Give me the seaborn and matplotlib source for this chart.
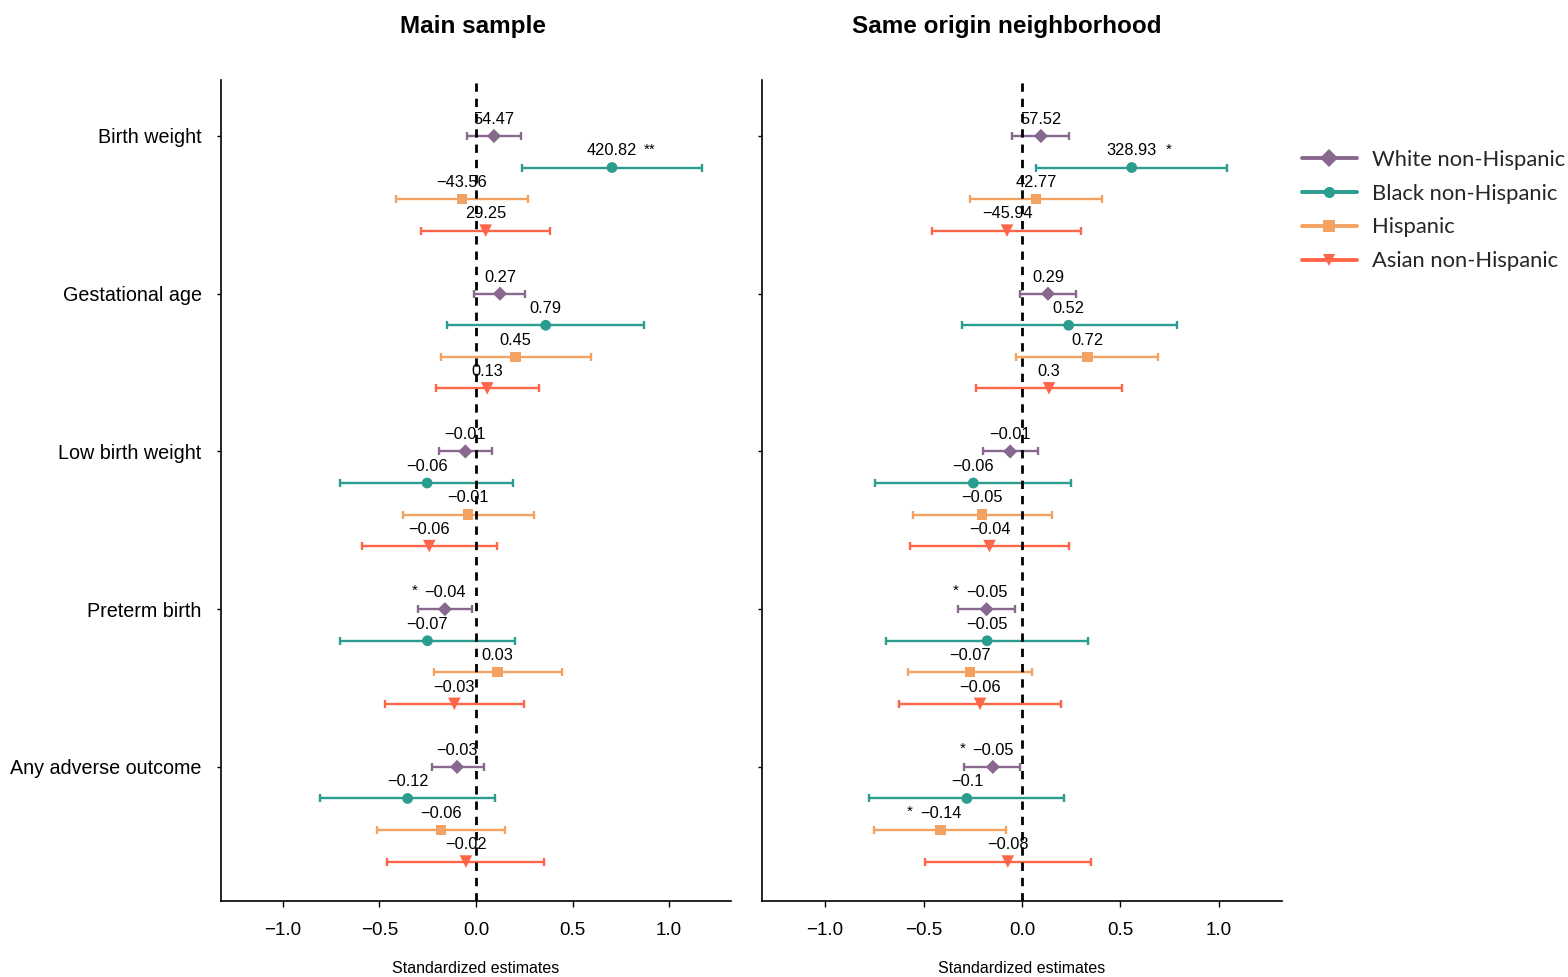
import numpy as np
import pandas as pd
import matplotlib
matplotlib.use("Agg")
import matplotlib.pyplot as plt
from matplotlib.lines import Line2D
import seaborn as sns

# ---- data -------------------------------------------------------------
outcomes = ["Birth weight", "Gestational age", "Low birth weight",
            "Preterm birth", "Any adverse outcome"]
groups = ["White non-Hispanic", "Black non-Hispanic", "Hispanic",
          "Asian non-Hispanic"]
panels = ["Main sample", "Same origin neighborhood"]

# standardized estimates, rows = outcomes, columns = groups
main_est = [[0.093, 0.704, -0.074, 0.050],
            [0.124, 0.361, 0.204, 0.058],
            [-0.055, -0.253, -0.041, -0.242],
            [-0.161, -0.251, 0.112, -0.112],
            [-0.098, -0.354, -0.182, -0.052]]
main_lo = [[-0.045, 0.239, -0.412, -0.284],
           [-0.010, -0.148, -0.179, -0.208],
           [-0.191, -0.703, -0.380, -0.589],
           [-0.299, -0.706, -0.220, -0.471],
           [-0.230, -0.806, -0.514, -0.459]]
main_hi = [[0.232, 1.170, 0.268, 0.385],
           [0.254, 0.868, 0.593, 0.326],
           [0.081, 0.194, 0.302, 0.108],
           [-0.019, 0.204, 0.445, 0.246],
           [0.041, 0.096, 0.151, 0.354]]
# unstandardized coefficients printed above each estimate
main_raw = [["54.47", "420.82", "−43.56", "29.25"],
            ["0.27", "0.79", "0.45", "0.13"],
            ["−0.01", "−0.06", "−0.01", "−0.06"],
            ["−0.04", "−0.07", "0.03", "−0.03"],
            ["−0.03", "−0.12", "−0.06", "−0.02"]]
main_sig = [["", "**", "", ""],
            ["", "", "", ""],
            ["", "", "", ""],
            ["*", "", "", ""],
            ["", "", "", ""]]

same_est = [[0.096, 0.557, 0.072, -0.076],
            [0.132, 0.237, 0.332, 0.137],
            [-0.060, -0.247, -0.203, -0.165],
            [-0.180, -0.177, -0.265, -0.213],
            [-0.148, -0.280, -0.414, -0.072]]
same_lo = [[-0.052, 0.072, -0.266, -0.457],
           [-0.009, -0.304, -0.028, -0.234],
           [-0.199, -0.744, -0.552, -0.570],
           [-0.325, -0.691, -0.577, -0.627],
           [-0.294, -0.778, -0.751, -0.495]]
same_hi = [[0.241, 1.039, 0.407, 0.301],
           [0.275, 0.785, 0.692, 0.509],
           [0.081, 0.247, 0.151, 0.241],
           [-0.034, 0.335, 0.050, 0.197],
           [-0.009, 0.213, -0.081, 0.351]]
same_raw = [["57.52", "328.93", "42.77", "−45.94"],
            ["0.29", "0.52", "0.72", "0.3"],
            ["−0.01", "−0.06", "−0.05", "−0.04"],
            ["−0.05", "−0.05", "−0.07", "−0.06"],
            ["−0.05", "−0.1", "−0.14", "−0.08"]]
same_sig = [["", "*", "", ""],
            ["", "", "", ""],
            ["", "", "", ""],
            ["*", "", "", ""],
            ["*", "", "*", ""]]

x_ticks = [-1.0, -0.5, 0.0, 0.5, 1.0]

# ---- long table -------------------------------------------------------
rows = []
for panel, est, lo, hi, raw, sig in [
        (panels[0], main_est, main_lo, main_hi, main_raw, main_sig),
        (panels[1], same_est, same_lo, same_hi, same_raw, same_sig)]:
    for i, outc in enumerate(outcomes):
        for j, grp in enumerate(groups):
            rows.append(dict(panel=panel, outcome=outc, group=grp,
                             ypos=i + 0.2 * j, est=est[i][j], lo=lo[i][j],
                             hi=hi[i][j], raw=raw[i][j], sig=sig[i][j]))
df = pd.DataFrame(rows)

# ---- style ------------------------------------------------------------
sns.set_theme(style="ticks")
plt.rcParams["font.family"] = ["Liberation Sans", "DejaVu Sans"]
plt.rcParams["axes.unicode_minus"] = True

palette = {"White non-Hispanic": "#89688F",
           "Black non-Hispanic": "#2A9D8F",
           "Hispanic": "#F4A261",
           "Asian non-Hispanic": "#FF6649"}
markers = {"White non-Hispanic": "D",
           "Black non-Hispanic": "o",
           "Hispanic": "s",
           "Asian non-Hispanic": "v"}
sizes = {"White non-Hispanic": 52,
         "Black non-Hispanic": 60,
         "Hispanic": 55,
         "Asian non-Hispanic": 82}

fig = plt.figure(figsize=(15.68, 9.77), dpi=100)
ax_l = fig.add_axes([221 / 1568, 76 / 977, 510 / 1568, 821 / 977])
ax_r = fig.add_axes([762 / 1568, 76 / 977, 520 / 1568, 821 / 977])

for ax, panel, tx in [(ax_l, panels[0], 0.494), (ax_r, panels[1], 0.47)]:
    d = df[df["panel"] == panel]
    for grp in groups:
        s = d[d["group"] == grp]
        ax.errorbar(s["est"], s["ypos"],
                     xerr=[s["est"] - s["lo"], s["hi"] - s["est"]],
                     fmt="none", ecolor=palette[grp], elinewidth=1.7,
                     capsize=2.6, capthick=1.7, zorder=2)
    sns.scatterplot(data=d, x="est", y="ypos", hue="group", style="group",
                    size="group", palette=palette, markers=markers,
                    sizes=sizes, hue_order=groups, style_order=groups,
                    size_order=groups, linewidth=0, legend=False,
                    ax=ax, zorder=3)
    for _, r in d.iterrows():
        ax.annotate(r["raw"], xy=(r["est"], r["ypos"]), xytext=(0, 12),
                    textcoords="offset points", ha="center", va="center",
                    fontsize=11.8, color="black", zorder=4)
        if r["sig"]:
            dx = 27 if r["est"] > 0 else -22
            ax.annotate(r["sig"], xy=(r["est"], r["ypos"]), xytext=(dx, 13),
                        textcoords="offset points", ha="center",
                        va="center", fontsize=11, color="black", zorder=4)
    ax.axvline(0, color="black", lw=2, ls=(0, (3, 2.5)), zorder=5)

    ax.set_xlim(-1.32, 1.32)
    ax.set_ylim(4.85, -0.355)
    ax.set_xticks(x_ticks)
    ax.set_xticklabels([f"{t:.1f}".replace("-", "−") for t in x_ticks])
    ax.set_yticks(range(len(outcomes)))
    ax.set_yticklabels(outcomes if ax is ax_l else [])
    ax.tick_params(axis="x", length=4, width=1, colors="black",
                   labelsize=13.5, pad=11)
    ax.tick_params(axis="y", length=3, width=1, colors="black",
                   labelsize=14.2, pad=11)
    ax.set_xlabel("Standardized estimates", fontsize=11.5, labelpad=16,
                  color="black")
    ax.set_ylabel("")
    ax.set_title(panel, fontsize=17.5, fontweight="bold", pad=34,
                 color="black", x=tx)
    for sp in ["left", "bottom"]:
        ax.spines[sp].set_color("black")
        ax.spines[sp].set_linewidth(1.2)
    sns.despine(ax=ax)

handles = [Line2D([0], [0], color=palette[g], lw=2.8, marker=markers[g],
                  markersize={"D": 9.5, "o": 8, "s": 8, "v": 9}[markers[g]],
                  markeredgewidth=0)
           for g in groups]
fig.legend(handles, groups, loc="upper left",
           bbox_to_anchor=(1293 / 1568, 1 - 141 / 977), frameon=False,
           prop={"family": "Lato", "size": 15.8}, handlelength=2.5,
           handletextpad=0.7, labelspacing=0.63, borderaxespad=0)

fig.savefig("out.png", dpi=100)
